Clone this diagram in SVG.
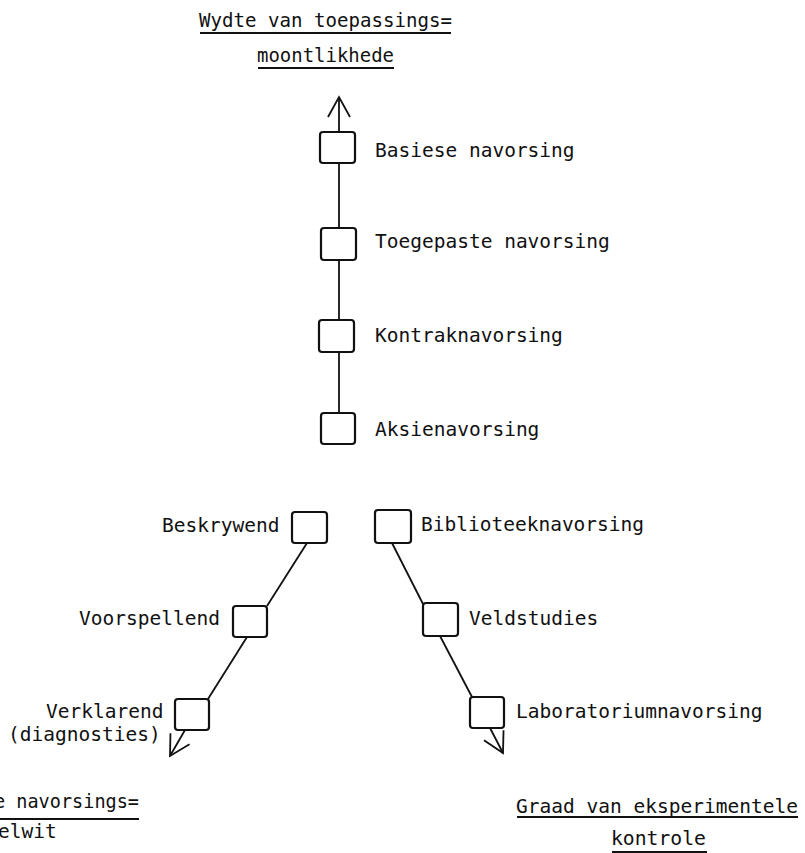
<svg xmlns="http://www.w3.org/2000/svg" width="805" height="853" viewBox="0 0 805 853">
<style>
text{font-family:"DejaVu Sans Mono","Liberation Mono",monospace;font-size:19.5px;fill:#111}
.box{fill:#fff;stroke:#111;stroke-width:2.2}
.con{fill:none;stroke:#111;stroke-width:1.8}
.ul{stroke:#111;stroke-width:1.8}
</style>
<defs>
<marker id="arr" markerUnits="userSpaceOnUse" viewBox="-24 -14 28 28" refX="0" refY="0" markerWidth="28" markerHeight="28" orient="auto" overflow="visible">
<path d="M-20,-11 L0,0 L-20,11" fill="none" stroke="#111" stroke-width="1.8"/>
</marker>
</defs>
<rect width="805" height="853" fill="#fff"/>
<g id="title-top">
<text x="199" y="27" textLength="253" lengthAdjust="spacingAndGlyphs">Wydte van toepassings=</text>
<line class="ul" x1="200" y1="33" x2="451" y2="33"/>
<text x="257" y="62" textLength="137" lengthAdjust="spacingAndGlyphs">moontlikhede</text>
<line class="ul" x1="258" y1="68" x2="394" y2="68"/>
</g>
<g id="title-left">
<text x="-6" y="808" textLength="145" lengthAdjust="spacingAndGlyphs">e navorsings=</text>
<line class="ul" x1="0" y1="819" x2="139" y2="819"/>
<text x="-2" y="838">elwit</text>
</g>
<g id="title-right">
<text x="516" y="813" textLength="282" lengthAdjust="spacingAndGlyphs">Graad van eksperimentele</text>
<line class="ul" x1="517" y1="817" x2="798" y2="817"/>
<text x="611" y="845" textLength="95" lengthAdjust="spacingAndGlyphs">kontrole</text>
<line class="ul" x1="612" y1="852" x2="707" y2="852"/>
</g>
<g id="connectors">
<path class="con" d="M339,413 L339,97" marker-end="url(#arr)"/>
<path class="con" d="M307,543 L267,606"/>
<path class="con" d="M247,637 L208,699"/>
<path class="con" d="M185,730 L170,756" marker-end="url(#arr)"/>
<path class="con" d="M392,543 L423,604"/>
<path class="con" d="M440,636 L472,697"/>
<path class="con" d="M490,728 L503,753" marker-end="url(#arr)"/>
</g>
<g id="basiese"><rect class="box" x="320" y="132" width="35" height="31" rx="3"/><text x="375" y="157">Basiese navorsing</text></g>
<g id="toegepaste"><rect class="box" x="321" y="228" width="35" height="32" rx="3"/><text x="375" y="248">Toegepaste navorsing</text></g>
<g id="kontrak"><rect class="box" x="319" y="320" width="35" height="32" rx="3"/><text x="375" y="342">Kontraknavorsing</text></g>
<g id="aksie"><rect class="box" x="321" y="413" width="34" height="31" rx="3"/><text x="375" y="436">Aksienavorsing</text></g>
<g id="beskrywend"><rect class="box" x="292" y="512" width="35" height="31" rx="3"/><text x="162" y="532">Beskrywend</text></g>
<g id="voorspellend"><rect class="box" x="233" y="606" width="34" height="31" rx="3"/><text x="79" y="625">Voorspellend</text></g>
<g id="verklarend"><rect class="box" x="175" y="699" width="34" height="31" rx="3"/><text x="46" y="718">Verklarend</text><text x="8" y="741">(diagnosties)</text></g>
<g id="biblioteek"><rect class="box" x="375" y="510" width="36" height="33" rx="3"/><text x="421" y="531">Biblioteeknavorsing</text></g>
<g id="veldstudies"><rect class="box" x="423" y="603" width="35" height="33" rx="3"/><text x="469" y="625">Veldstudies</text></g>
<g id="laboratorium"><rect class="box" x="470" y="697" width="34" height="31" rx="3"/><text x="516" y="718">Laboratoriumnavorsing</text></g>
</svg>
